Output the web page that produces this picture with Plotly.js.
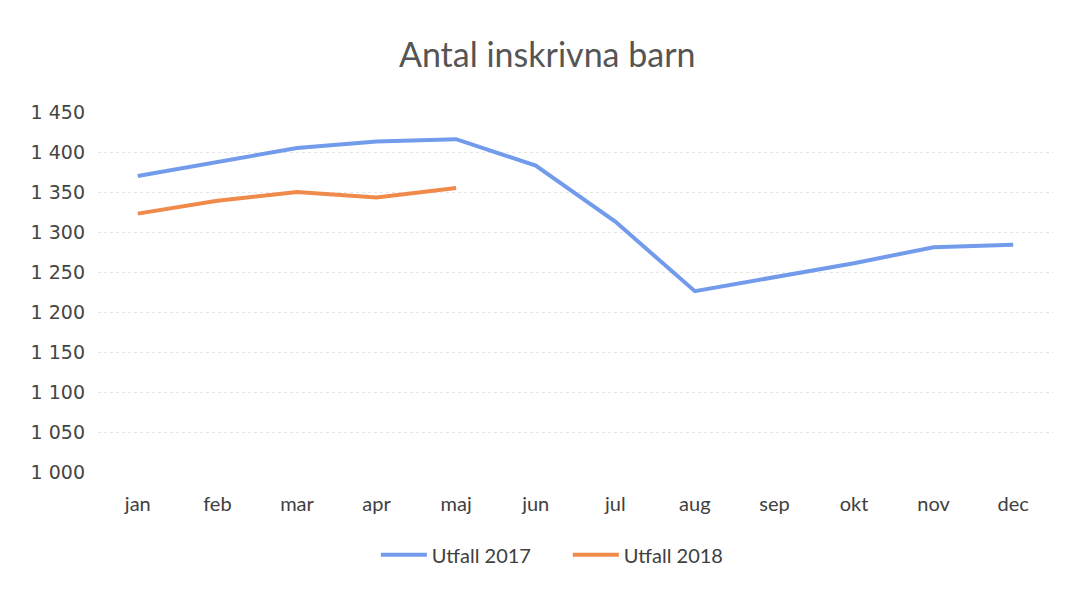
<!DOCTYPE html>
<html>
<head>
<meta charset="utf-8">
<script src="https://cdn.plot.ly/plotly-3.0.1.min.js"></script>
<style>
  html, body { margin: 0; padding: 0; background: #fff; }
  #chart { width: 1073px; height: 592px; }
</style>
</head>
<body>
<div id="chart"></div>
<script>
// months and monthly counts
const months = ['jan', 'feb', 'mar', 'apr', 'maj', 'jun', 'jul', 'aug', 'sep', 'okt', 'nov', 'dec'];
const utfall2017 = [1370, 1388, 1405, 1413, 1416, 1383, 1313, 1226, 1243, 1261, 1281, 1284];
const utfall2018 = [1323, 1339, 1350, 1343, 1355];

const traces = [
  {
    x: months,
    y: utfall2017,
    name: 'Utfall 2017',
    type: 'scatter',
    mode: 'lines',
    line: {color: '#729BEC', width: 4}
  },
  {
    x: months.slice(0, utfall2018.length),
    y: utfall2018,
    name: 'Utfall 2018',
    type: 'scatter',
    mode: 'lines',
    line: {color: '#F08A4B', width: 4}
  }
];

const layout = {
  width: 1073,
  height: 592,
  separators: ', ',
  font: {family: 'Lato, "Open Sans", sans-serif', color: '#595959', size: 16},
  paper_bgcolor: '#fff',
  plot_bgcolor: '#fff',
  margin: {l: 98, r: 20, t: 112, b: 120},
  title: {
    text: 'Antal inskrivna barn',
    font: {size: 34, color: '#555555'},
    x: 0.51,
    xanchor: 'center',
    y: 0.907,
    yanchor: 'middle'
  },
  xaxis: {
    type: 'category',
    range: [-0.5, 11.5],
    showgrid: false,
    zeroline: false,
    showline: false,
    ticks: '',
    tickfont: {size: 20, color: '#404040'},
    ticklabelstandoff: 18
  },
  yaxis: {
    range: [1000, 1450],
    dtick: 50,
    tick0: 1000,
    tickformat: ',d',
    showgrid: true,
    gridcolor: '#e4e4e4',
    griddash: 'dot',
    gridwidth: 1,
    zeroline: false,
    showline: false,
    ticks: '',
    tickfont: {family: '"DejaVu Sans", sans-serif', size: 19, color: '#454545'},
    ticklabelstandoff: 12
  },
  showlegend: true,
  legend: {
    orientation: 'h',
    x: 0.492,
    xanchor: 'center',
    y: -0.23,
    yanchor: 'middle',
    font: {size: 20, color: '#404040'},
    entrywidth: 131,
    itemwidth: 46
  }
};

Plotly.newPlot('chart', traces, layout, {displayModeBar: false, staticPlot: true});
</script>
</body>
</html>
